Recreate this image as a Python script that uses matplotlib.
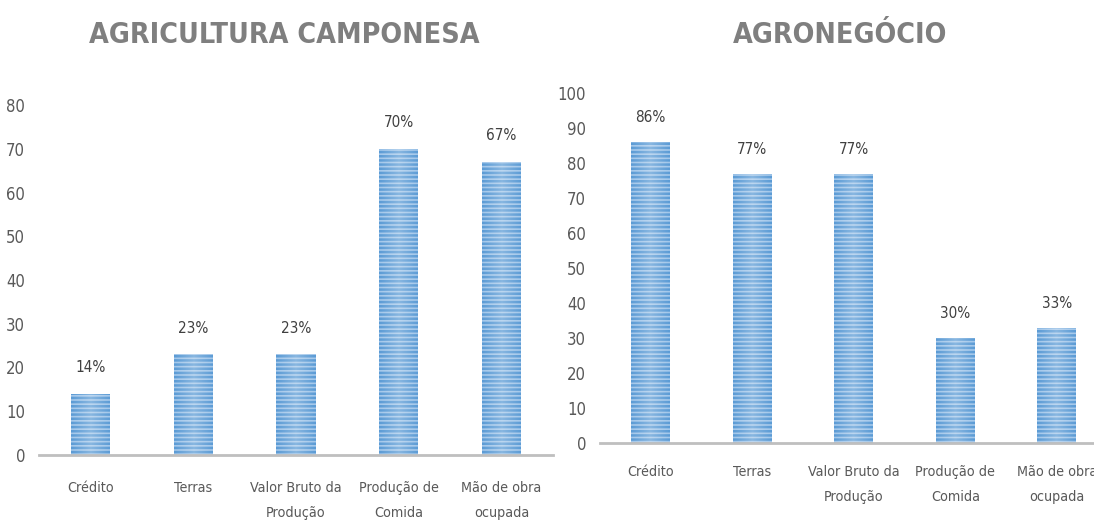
import matplotlib
matplotlib.use("Agg")
import matplotlib.pyplot as plt
from matplotlib import font_manager as fm
import numpy as np

categories = ["Crédito", "Terras", "Valor Bruto da\nProdução", "Produção de\nComida", "Mão de obra\nocupada"]
camponesa = [14, 23, 23, 70, 67]
agronegocio = [86, 77, 77, 30, 33]
title_left = "AGRICULTURA CAMPONESA"
title_right = "AGRONEGÓCIO"

names = {f.name for f in fm.fontManager.ttflist}
stretch = "normal"
if "Liberation Sans Narrow" in names:
    FAM = "Liberation Sans Narrow"
elif any(f.name == "DejaVu Sans" and f.stretch == "condensed" for f in fm.fontManager.ttflist):
    FAM = "DejaVu Sans"
    stretch = "condensed"
else:
    FAM = "Liberation Sans"

plt.rcParams["hatch.linewidth"] = 1.8

fig = plt.figure(figsize=(10.94, 5.22), dpi=100)
fig.patch.set_facecolor("white")

ax1 = fig.add_axes([39/1094, 67/522, 514/1094, 350/522])
ax2 = fig.add_axes([600/1094, 79/522, 507.5/1094, 350/522])

g = 1 - np.abs(np.linspace(-1, 1, 64))
shine = np.zeros((1, 64, 4))
shine[..., :3] = 1.0
shine[..., 3] = 0.28 * g

def draw(ax, vals, ymax, title, tx, label_off, xpad):
    x = list(range(len(categories)))
    bars = ax.bar(x, vals, width=0.38, color="#A3C7EA", edgecolor="#5B9BD5",
                  hatch="----", linewidth=0, zorder=2)
    for b in bars:
        x0 = b.get_x()
        ax.imshow(shine, extent=[x0, x0 + b.get_width(), 0, b.get_height()],
                  aspect="auto", zorder=3, interpolation="bilinear")
    ax.set_xlim(-0.5, len(categories) - 0.5)
    ax.set_ylim(0, ymax)
    ax.set_yticks(range(0, ymax + 1, 10))
    for s in ["top", "right", "left"]:
        ax.spines[s].set_visible(False)
    ax.spines["bottom"].set_color("#BFBFBF")
    ax.spines["bottom"].set_linewidth(2)
    ax.spines["bottom"].set_zorder(4)
    ax.tick_params(axis="both", length=0, colors="#595959")
    ax.tick_params(axis="y", pad=10)
    ax.tick_params(axis="x", pad=xpad)
    ax.set_xticks(x)
    ax.set_xticklabels(categories, fontsize=10.3, family=FAM, stretch=stretch,
                       color="#595959", linespacing=2.0)
    for lab in ax.get_yticklabels():
        lab.set_fontsize(12)
        lab.set_family(FAM)
        lab.set_stretch(stretch)
        lab.set_color("#595959")
    for xi, v in zip(x, vals):
        ax.annotate(f"{v}%", (xi, v), xytext=(0, label_off), textcoords="offset pixels",
                    ha="center", va="center", fontsize=11, family=FAM, stretch=stretch,
                    color="#404040")
    fig.text(tx, 1 - 35/522, title, ha="center", va="center", fontsize=20.5,
             fontweight="bold", family=FAM, stretch=stretch, color="#7F7F7F")

draw(ax1, camponesa, 80, title_left, 284/1094, 26, 18.4)
draw(ax2, agronegocio, 100, title_right, 840/1094, 24, 15.5)

fig.savefig("out.png", dpi=100, facecolor="white")
